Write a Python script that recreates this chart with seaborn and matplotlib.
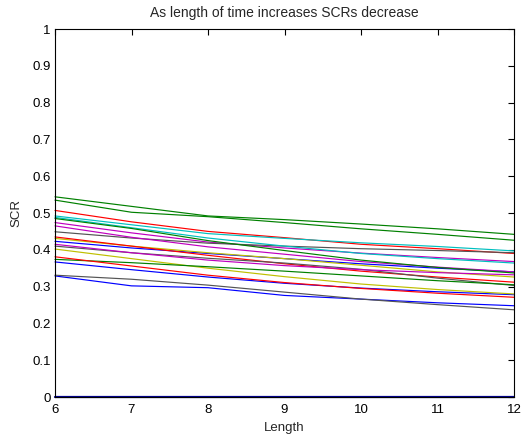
import matplotlib
matplotlib.use("Agg")
import matplotlib.pyplot as plt
import numpy as np
import pandas as pd
import seaborn as sns

# Length values shared by every series
lengths = [6, 7, 8, 9, 10, 11, 12]

# SCR per length, one list per subject
scr_01 = [0.423, 0.405, 0.390, 0.376, 0.362, 0.350, 0.340]
scr_02 = [0.544, 0.518, 0.492, 0.482, 0.470, 0.457, 0.442]
scr_03 = [0.507, 0.476, 0.450, 0.433, 0.415, 0.403, 0.390]
scr_04 = [0.492, 0.468, 0.444, 0.431, 0.419, 0.409, 0.397]
scr_05 = [0.474, 0.446, 0.421, 0.405, 0.391, 0.379, 0.368]
scr_06 = [0.431, 0.410, 0.392, 0.376, 0.358, 0.340, 0.326]
scr_07 = [0.449, 0.432, 0.418, 0.410, 0.403, 0.398, 0.392]
scr_08 = [0.367, 0.346, 0.326, 0.309, 0.296, 0.286, 0.278]
scr_09 = [0.535, 0.502, 0.490, 0.474, 0.457, 0.442, 0.426]
scr_10 = [0.435, 0.410, 0.385, 0.362, 0.342, 0.326, 0.312]
scr_11 = [0.488, 0.460, 0.432, 0.410, 0.390, 0.376, 0.364]
scr_12 = [0.465, 0.434, 0.408, 0.388, 0.368, 0.353, 0.340]
scr_13 = [0.402, 0.376, 0.350, 0.327, 0.307, 0.292, 0.280]
scr_14 = [0.410, 0.392, 0.377, 0.364, 0.347, 0.323, 0.303]
scr_15 = [0.329, 0.302, 0.297, 0.276, 0.266, 0.256, 0.248]
scr_16 = [0.374, 0.365, 0.354, 0.342, 0.329, 0.316, 0.305]
scr_17 = [0.381, 0.356, 0.331, 0.311, 0.295, 0.282, 0.271]
scr_18 = [0.331, 0.320, 0.304, 0.285, 0.266, 0.251, 0.237]
scr_19 = [0.415, 0.392, 0.372, 0.357, 0.346, 0.338, 0.332]
scr_20 = [0.485, 0.458, 0.425, 0.398, 0.372, 0.352, 0.337]
scr_21 = [0.0, 0.0, 0.0, 0.0, 0.0, 0.0, 0.0]

series = [scr_01, scr_02, scr_03, scr_04, scr_05, scr_06, scr_07,
          scr_08, scr_09, scr_10, scr_11, scr_12, scr_13, scr_14,
          scr_15, scr_16, scr_17, scr_18, scr_19, scr_20, scr_21]

# classic MATLAB line colour order b, g, r, c, m, y, k
blue, green, red = (0, 0, 1), (0, 0.5, 0), (1, 0, 0)
cyan, magenta = (0, 0.75, 0.75), (0.75, 0, 0.75)
yellow, dark = (0.75, 0.75, 0), (0.33, 0.33, 0.33)
line_colors = [blue, green, red, cyan, magenta, yellow, dark,
               blue, green, red, cyan, magenta, yellow, dark,
               blue, green, red, dark, magenta, green, blue]

names = [f"s{i + 1:02d}" for i in range(len(series))]
df = pd.DataFrame({
    "Length": np.tile(lengths, len(series)),
    "SCR": np.concatenate(series),
    "subject": np.repeat(names, len(lengths)),
})

sns.set_style("white")
plt.rcParams["font.family"] = ["Liberation Sans", "DejaVu Sans"]

fig = plt.figure(figsize=(5.31, 4.37), dpi=100)
ax = fig.add_axes([55 / 531, 1 - 397 / 437, (514 - 55) / 531, (397 - 29) / 437])

sns.lineplot(data=df, x="Length", y="SCR", hue="subject", hue_order=names,
             palette=dict(zip(names, line_colors)), legend=False,
             linewidth=0.85, ax=ax, estimator=None, clip_on=False)
ax.lines[-1].set_linewidth(1.6)
ax.lines[-1].set_color((0, 0, 0.55))

ax.set_xlim(6, 12)
ax.set_ylim(0, 1)
ax.set_xticks(lengths)
ax.set_xticklabels([str(v) for v in lengths])
yt = [0, 0.1, 0.2, 0.3, 0.4, 0.5, 0.6, 0.7, 0.8, 0.9, 1]
ax.set_yticks(yt)
ax.set_yticklabels(["0", "0.1", "0.2", "0.3", "0.4", "0.5", "0.6", "0.7", "0.8", "0.9", "1"])

ax.tick_params(direction="in", length=4, width=0.8, top=True, right=True,
               labelsize=9.5, colors="black")
ax.tick_params(axis="x", pad=5)
ax.tick_params(axis="y", pad=3)
for sp in ax.spines.values():
    sp.set_visible(True)
    sp.set_color("black")
    sp.set_linewidth(0.8)

ax.set_xlabel("Length", fontsize=9.5, labelpad=4)
ax.set_ylabel("SCR", fontsize=9.5, labelpad=7)
ax.set_title("As length of time increases SCRs decrease", fontsize=10, pad=9)

fig.savefig("out.png", dpi=100, facecolor="white")
